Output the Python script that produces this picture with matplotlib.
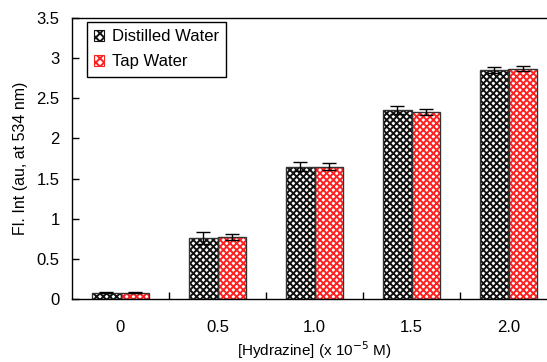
import numpy as np
import matplotlib.pyplot as plt
from matplotlib.patches import Patch

plt.rcParams['font.family'] = ['Liberation Sans', 'DejaVu Sans']
plt.rcParams['hatch.linewidth'] = 1.4

categories = ['0', '0.5', '1.0', '1.5', '2.0']
distilled = [0.08, 0.76, 1.65, 2.35, 2.85]
distilled_err = [0.01, 0.07, 0.06, 0.05, 0.04]
tap = [0.08, 0.77, 1.65, 2.33, 2.87]
tap_err = [0.01, 0.04, 0.04, 0.04, 0.03]

fig = plt.figure(figsize=(5.47, 3.62), dpi=100)
ax = fig.add_axes([72 / 547, 63 / 362, 485 / 547, 281 / 362])

x = np.arange(len(categories))
w = 0.29

# hatched fill, then a dark outline on top
ax.bar(x - w / 2, distilled, w, color='white', edgecolor='#111111', hatch='xxxxx', linewidth=0)
ax.bar(x + w / 2, tap, w, color='white', edgecolor='#ff2020', hatch='xxxxx', linewidth=0)
ax.bar(x - w / 2, distilled, w, fill=False, edgecolor='#333333', linewidth=1.0)
ax.bar(x + w / 2, tap, w, fill=False, edgecolor='#333333', linewidth=1.0)
ax.errorbar(x - w / 2, distilled, yerr=distilled_err, fmt='none', ecolor='black',
            elinewidth=1, capsize=5, capthick=1)
ax.errorbar(x + w / 2, tap, yerr=tap_err, fmt='none', ecolor='black',
            elinewidth=1, capsize=5, capthick=1)

h1 = Patch(facecolor='white', edgecolor='#111111', hatch='xxxx', linewidth=0.8)
h2 = Patch(facecolor='white', edgecolor='#ff2020', hatch='xxxx', linewidth=0.8)
leg = ax.legend([h1, h2], ['Distilled Water', 'Tap Water'], loc='upper left',
                bbox_to_anchor=(0.03, 0.987), fontsize=12, fancybox=False,
                framealpha=1, edgecolor='black', handlelength=0.6, handleheight=0.6,
                handletextpad=0.45, borderpad=0.45, labelspacing=0.6, borderaxespad=0)
leg.get_frame().set_linewidth(1.0)

ax.set_xlim(-0.5, 4.5)
ax.set_ylim(0, 3.5)
ax.set_yticks(np.arange(0, 3.51, 0.5))
ax.set_yticklabels(['0', '0.5', '1', '1.5', '2', '2.5', '3', '3.5'])
ax.set_xticks(x)
ax.set_xticklabels(categories)
ax.set_xticks(x[:-1] + 0.5, minor=True)
ax.tick_params(axis='x', which='major', length=0, pad=15, labelsize=12)
ax.tick_params(axis='x', which='minor', direction='in', length=5, width=1)
ax.tick_params(axis='y', direction='in', length=5, width=1, pad=9, labelsize=12)
ax.spines['right'].set_visible(False)
for s in ['left', 'bottom', 'top']:
    ax.spines[s].set_linewidth(1.0)

ax.set_ylabel('Fl. Int (au, at 534 nm)', fontsize=11.5, labelpad=6)
ax.set_xlabel('[Hydrazine] (x 10$^{-5}$ M)', fontsize=11, labelpad=3)

fig.savefig('out.png', dpi=100)
